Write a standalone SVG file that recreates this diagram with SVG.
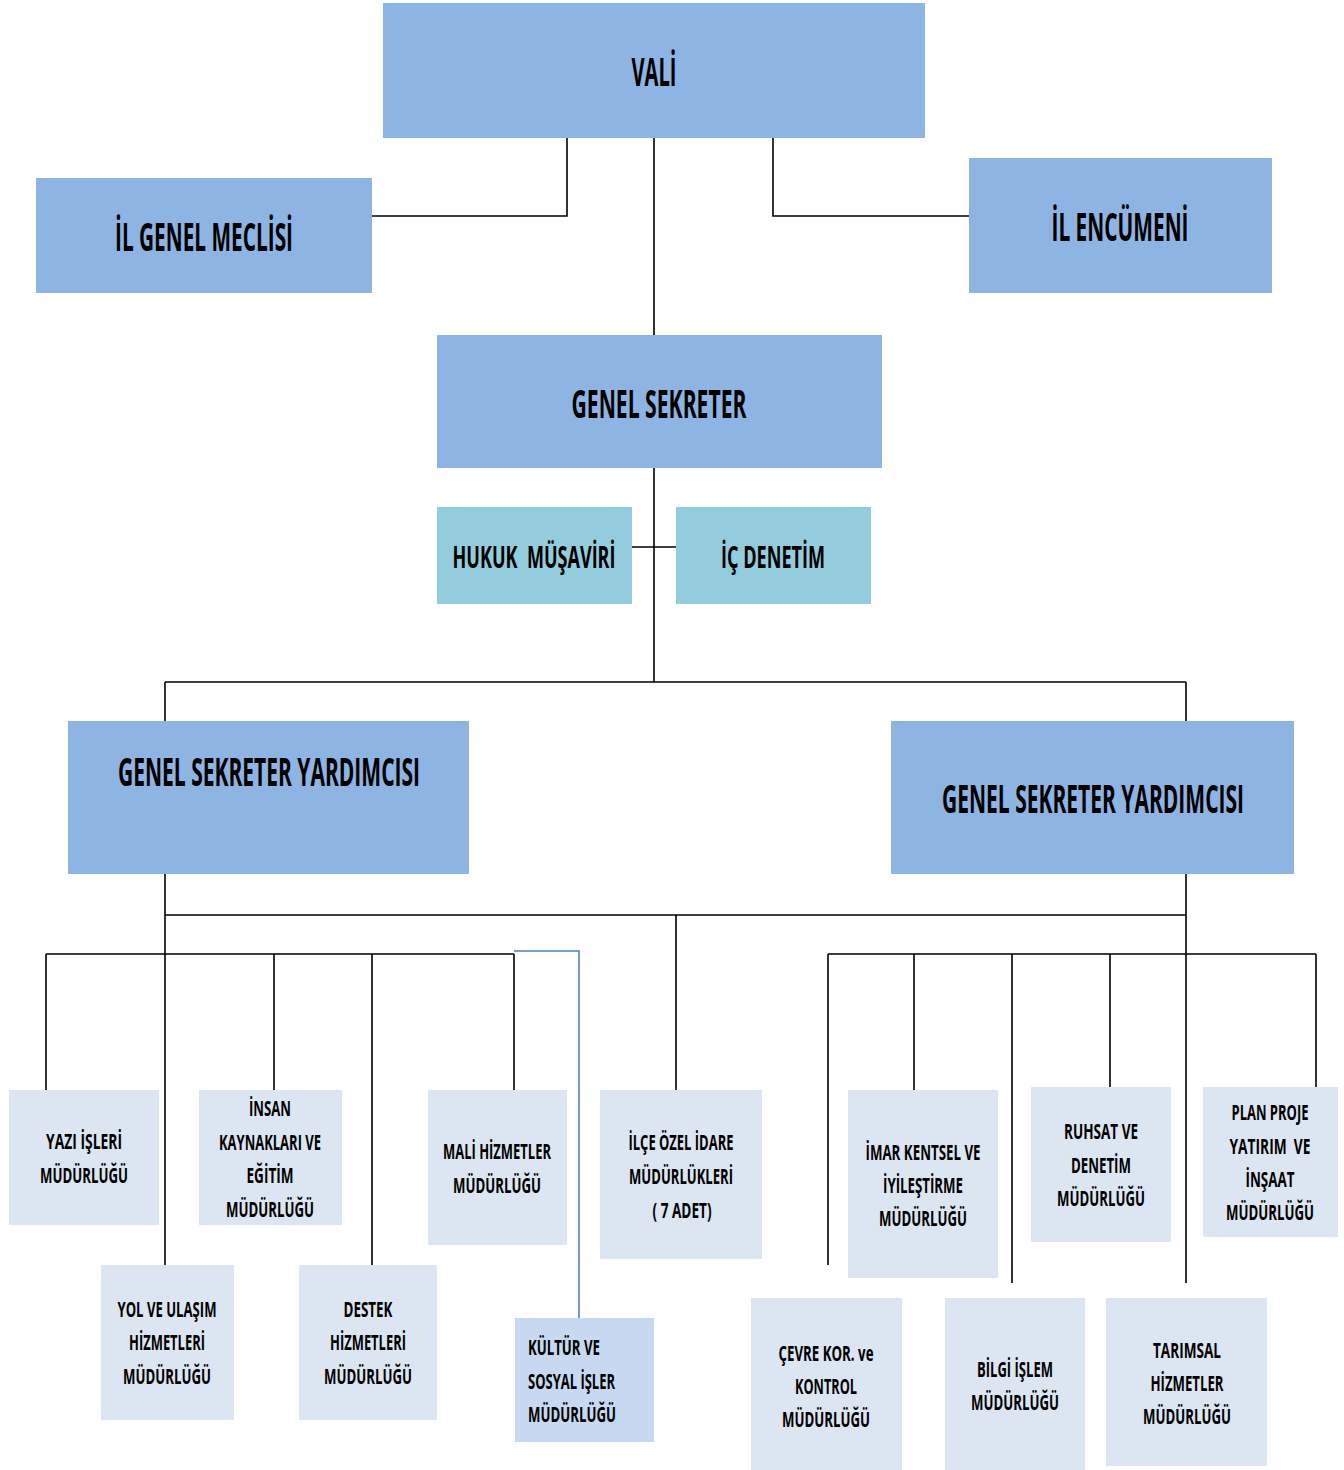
<svg xmlns="http://www.w3.org/2000/svg" width="1344" height="1470" viewBox="0 0 1344 1470">
<style>
.top{fill:#8EB4E3}
.cy{fill:#93CDDD}
.lt{fill:#DCE6F2}
.kt{fill:#C6D9F1}
text{font-family:"Open Sans","Liberation Sans",sans-serif;font-weight:bold;fill:#000;text-anchor:middle;white-space:pre}
.b{font-size:39px}
.m{font-size:31px}
.s{font-size:22px}
.ln{stroke:#000;stroke-width:1.6;fill:none}
.bl{stroke:#4F81BD;stroke-width:1.6;fill:none}
</style>
<rect width="1344" height="1470" fill="#fff"/>
<g id="connectors">
<path class="ln" d="M654 138V335M654 468V682M567 138V216H372M773 138V216H969M632 547H676"/>
<path class="ln" d="M165 682H1186M165 682V721M1186 682V721"/>
<path class="ln" d="M165 874V1265M1186 874V1283M165 915H1186M676 915V1090"/>
<path class="ln" d="M46 954H514M46 954V1090M274 954V1090M372 954V1265M514 954V1090"/>
<path class="bl" d="M514 951H579V1318"/>
<path class="ln" d="M828 954H1316M828 954V1265M914 954V1090M1012 954V1283M1110 954V1087M1316 954V1087"/>
</g>
<g id="vali"><rect class="top" x="383" y="3" width="542" height="135"/><text class="b" x="654" y="86" textLength="45" lengthAdjust="spacingAndGlyphs">VALİ</text></g>
<g id="il-genel-meclisi"><rect class="top" x="36" y="178" width="336" height="115"/><text class="b" x="204" y="251" textLength="178" lengthAdjust="spacingAndGlyphs">İL GENEL MECLİSİ</text></g>
<g id="il-encumeni"><rect class="top" x="969" y="158" width="303" height="135"/><text class="b" x="1120" y="241" textLength="137" lengthAdjust="spacingAndGlyphs">İL ENCÜMENİ</text></g>
<g id="genel-sekreter"><rect class="top" x="437" y="335" width="445" height="133"/><text class="b" x="659" y="418" textLength="175" lengthAdjust="spacingAndGlyphs">GENEL SEKRETER</text></g>
<g id="hukuk"><rect class="cy" x="437" y="507" width="195" height="97"/><text class="m" x="534" y="568" textLength="163" lengthAdjust="spacingAndGlyphs">HUKUK  MÜŞAVİRİ</text></g>
<g id="ic-denetim"><rect class="cy" x="676" y="507" width="195" height="97"/><text class="m" x="773" y="568" textLength="104" lengthAdjust="spacingAndGlyphs">İÇ DENETİM</text></g>
<g id="gsy-left"><rect class="top" x="68" y="721" width="401" height="153"/><text class="b" x="269" y="786" textLength="302" lengthAdjust="spacingAndGlyphs">GENEL SEKRETER YARDIMCISI</text></g>
<g id="gsy-right"><rect class="top" x="891" y="721" width="403" height="153"/><text class="b" x="1093" y="813" textLength="302" lengthAdjust="spacingAndGlyphs">GENEL SEKRETER YARDIMCISI</text></g>
<g id="yazi"><rect class="lt" x="9" y="1090" width="150" height="135"/>
<text class="s" x="84" y="1149" textLength="76" lengthAdjust="spacingAndGlyphs">YAZI İŞLERİ</text>
<text class="s" x="84" y="1183" textLength="88" lengthAdjust="spacingAndGlyphs">MÜDÜRLÜĞÜ</text></g>
<g id="insan"><rect class="lt" x="199" y="1090" width="143" height="135"/>
<text class="s" x="270" y="1116" textLength="42" lengthAdjust="spacingAndGlyphs">İNSAN</text>
<text class="s" x="270" y="1150" textLength="102" lengthAdjust="spacingAndGlyphs">KAYNAKLARI VE</text>
<text class="s" x="270" y="1183" textLength="47" lengthAdjust="spacingAndGlyphs">EĞİTİM</text>
<text class="s" x="270" y="1217" textLength="88" lengthAdjust="spacingAndGlyphs">MÜDÜRLÜĞÜ</text></g>
<g id="mali"><rect class="lt" x="428" y="1090" width="139" height="155"/>
<text class="s" x="497" y="1159" textLength="108" lengthAdjust="spacingAndGlyphs">MALİ HİZMETLER</text>
<text class="s" x="497" y="1193" textLength="88" lengthAdjust="spacingAndGlyphs">MÜDÜRLÜĞÜ</text></g>
<g id="ilce"><rect class="lt" x="600" y="1090" width="162" height="169"/>
<text class="s" x="681" y="1150" textLength="105" lengthAdjust="spacingAndGlyphs">İLÇE ÖZEL İDARE</text>
<text class="s" x="681" y="1184" textLength="104" lengthAdjust="spacingAndGlyphs">MÜDÜRLÜKLERİ</text>
<text class="s" x="682" y="1218" textLength="59" lengthAdjust="spacingAndGlyphs">( 7 ADET)</text></g>
<g id="imar"><rect class="lt" x="848" y="1090" width="150" height="188"/>
<text class="s" x="923" y="1160" textLength="115" lengthAdjust="spacingAndGlyphs">İMAR KENTSEL VE</text>
<text class="s" x="923" y="1193" textLength="80" lengthAdjust="spacingAndGlyphs">İYİLEŞTİRME</text>
<text class="s" x="923" y="1226" textLength="88" lengthAdjust="spacingAndGlyphs">MÜDÜRLÜĞÜ</text></g>
<g id="ruhsat"><rect class="lt" x="1031" y="1087" width="140" height="155"/>
<text class="s" x="1101" y="1139" textLength="74" lengthAdjust="spacingAndGlyphs">RUHSAT VE</text>
<text class="s" x="1101" y="1173" textLength="60" lengthAdjust="spacingAndGlyphs">DENETİM</text>
<text class="s" x="1101" y="1206" textLength="88" lengthAdjust="spacingAndGlyphs">MÜDÜRLÜĞÜ</text></g>
<g id="plan"><rect class="lt" x="1203" y="1087" width="135" height="150"/>
<text class="s" x="1270" y="1120" textLength="77" lengthAdjust="spacingAndGlyphs">PLAN PROJE</text>
<text class="s" x="1270" y="1154" textLength="81" lengthAdjust="spacingAndGlyphs">YATIRIM  VE</text>
<text class="s" x="1270" y="1187" textLength="49" lengthAdjust="spacingAndGlyphs">İNŞAAT</text>
<text class="s" x="1270" y="1220" textLength="88" lengthAdjust="spacingAndGlyphs">MÜDÜRLÜĞÜ</text></g>
<g id="yol"><rect class="lt" x="101" y="1265" width="133" height="155"/>
<text class="s" x="167" y="1317" textLength="99" lengthAdjust="spacingAndGlyphs">YOL VE ULAŞIM</text>
<text class="s" x="167" y="1350" textLength="76" lengthAdjust="spacingAndGlyphs">HİZMETLERİ</text>
<text class="s" x="167" y="1384" textLength="88" lengthAdjust="spacingAndGlyphs">MÜDÜRLÜĞÜ</text></g>
<g id="destek"><rect class="lt" x="299" y="1265" width="138" height="155"/>
<text class="s" x="368" y="1317" textLength="49" lengthAdjust="spacingAndGlyphs">DESTEK</text>
<text class="s" x="368" y="1350" textLength="76" lengthAdjust="spacingAndGlyphs">HİZMETLERİ</text>
<text class="s" x="368" y="1384" textLength="88" lengthAdjust="spacingAndGlyphs">MÜDÜRLÜĞÜ</text></g>
<g id="kultur"><rect class="kt" x="515" y="1318" width="139" height="124"/>
<text class="s" x="528" y="1355" style="text-anchor:start" textLength="72" lengthAdjust="spacingAndGlyphs">KÜLTÜR VE</text>
<text class="s" x="528" y="1389" style="text-anchor:start" textLength="87" lengthAdjust="spacingAndGlyphs">SOSYAL İŞLER</text>
<text class="s" x="528" y="1422" style="text-anchor:start" textLength="88" lengthAdjust="spacingAndGlyphs">MÜDÜRLÜĞÜ</text></g>
<g id="cevre"><rect class="lt" x="751" y="1298" width="151" height="172"/>
<text class="s" x="826" y="1361" textLength="95" lengthAdjust="spacingAndGlyphs">ÇEVRE KOR. ve</text>
<text class="s" x="826" y="1394" textLength="62" lengthAdjust="spacingAndGlyphs">KONTROL</text>
<text class="s" x="826" y="1427" textLength="88" lengthAdjust="spacingAndGlyphs">MÜDÜRLÜĞÜ</text></g>
<g id="bilgi"><rect class="lt" x="945" y="1298" width="140" height="172"/>
<text class="s" x="1015" y="1377" textLength="76" lengthAdjust="spacingAndGlyphs">BİLGİ İŞLEM</text>
<text class="s" x="1015" y="1410" textLength="88" lengthAdjust="spacingAndGlyphs">MÜDÜRLÜĞÜ</text></g>
<g id="tarimsal"><rect class="lt" x="1106" y="1298" width="161" height="168"/>
<text class="s" x="1187" y="1358" textLength="68" lengthAdjust="spacingAndGlyphs">TARIMSAL</text>
<text class="s" x="1187" y="1391" textLength="73" lengthAdjust="spacingAndGlyphs">HİZMETLER</text>
<text class="s" x="1187" y="1424" textLength="88" lengthAdjust="spacingAndGlyphs">MÜDÜRLÜĞÜ</text></g>
</svg>
